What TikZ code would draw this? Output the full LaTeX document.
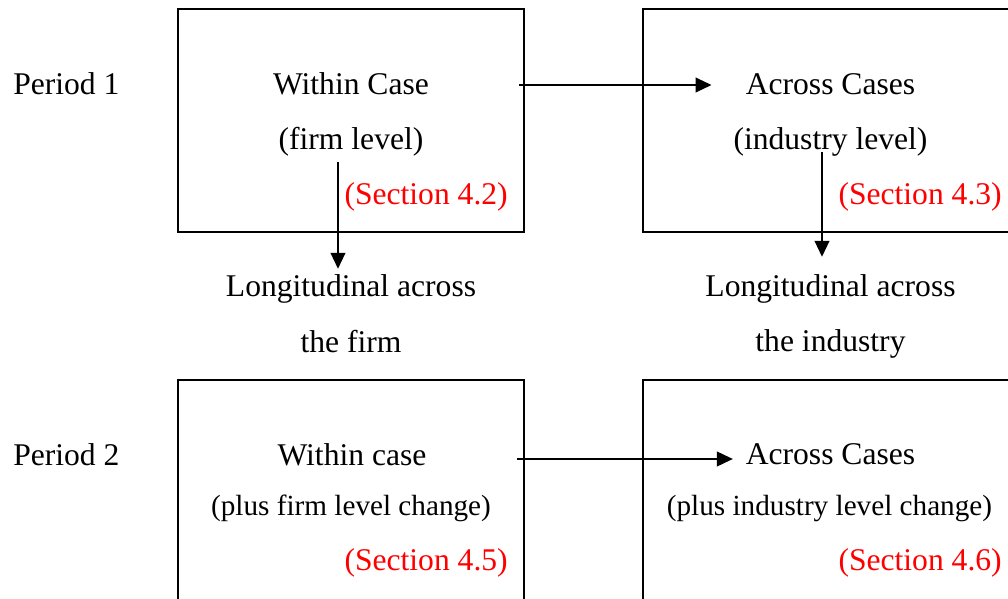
\documentclass[tikz,border=0pt]{standalone}
\usepackage{fontspec}
\setmainfont{Liberation Serif}
\usetikzlibrary{arrows.meta}
\definecolor{secred}{RGB}{255,0,0}
\begin{document}
\begin{tikzpicture}[x=0.75pt,y=-0.75pt,
  box/.style={draw,line width=1.5pt,minimum height=167.25pt,inner sep=0pt},
  lbl/.style={inner sep=0pt,anchor=base,font=\fontsize{23.7}{28}\selectfont},
  sub/.style={inner sep=0pt,anchor=base,font=\fontsize{21.9}{26}\selectfont},
  sec/.style={inner sep=0pt,anchor=base east,text=secred,font=\fontsize{23.7}{28}\selectfont},
  arr/.style={line width=1.5pt,-{Triangle[length=12pt,width=11pt]}}]
\useasboundingbox (0,0) rectangle (1008,599);
\clip (0,0) rectangle (1008,599);

% frames of the four analysis cells
\node[box,minimum width=259.5pt]  (b1) at (351,120.5) {};
\node[box,minimum width=281.25pt] (b2) at (830.5,120.5) {};
\node[box,minimum width=259.5pt]  (b3) at (351,491.5) {};
\node[box,minimum width=281.25pt] (b4) at (830.5,491.5) {};

% period labels
\node[lbl,anchor=base west] (p1) at (13,95) {Period 1};
\node[lbl,anchor=base west] (p2) at (13,465) {Period 2};

% period 1, within case
\node[lbl] (w1)  at (351,95)  {Within Case};
\node[lbl] (w1b) at (351,150) {(firm level)};
\node[sec] (s42) at (508,205) {(Section 4.2)};

% period 1, across cases
\node[lbl] (a1)  at (830.5,95)  {Across Cases};
\node[lbl] (a1b) at (830.5,150) {(industry level)};
\node[sec] (s43) at (1002,205) {(Section 4.3)};

% longitudinal views
\node[lbl] (l1)  at (351,297) {Longitudinal across};
\node[lbl] (l1b) at (351,353) {the firm};
\node[lbl] (l2)  at (830.5,297) {Longitudinal across};
\node[lbl] (l2b) at (830.5,352) {the industry};

% period 2, within case
\node[lbl] (w2)  at (352,465) {Within case};
\node[sub] (w2b) at (351,515) {(plus firm level change)};
\node[sec] (s45) at (508,570) {(Section 4.5)};

% period 2, across cases
\node[lbl] (a2)  at (830.5,464) {Across Cases};
\node[sub] (a2b) at (829.5,515) {(plus industry level change)};
\node[sec] (s46) at (1002,570) {(Section 4.6)};

% arrow start points
\coordinate (h1) at (519,85);
\coordinate (h2) at (517,459);
\coordinate (v1) at (338,162);
\coordinate (v2) at (822,152);

\draw[arr,shorten >=25.5pt] (h1) -- (h1 -| a1.west);
\draw[arr,shorten >=9.5pt]  (h2) -- (h2 -| a2.west);
\draw[arr,shorten >=4.5pt]  (v1) -- (v1 |- l1.north);
\draw[arr,shorten >=13.5pt] (v2) -- (v2 |- l2.north);
\end{tikzpicture}
\end{document}
